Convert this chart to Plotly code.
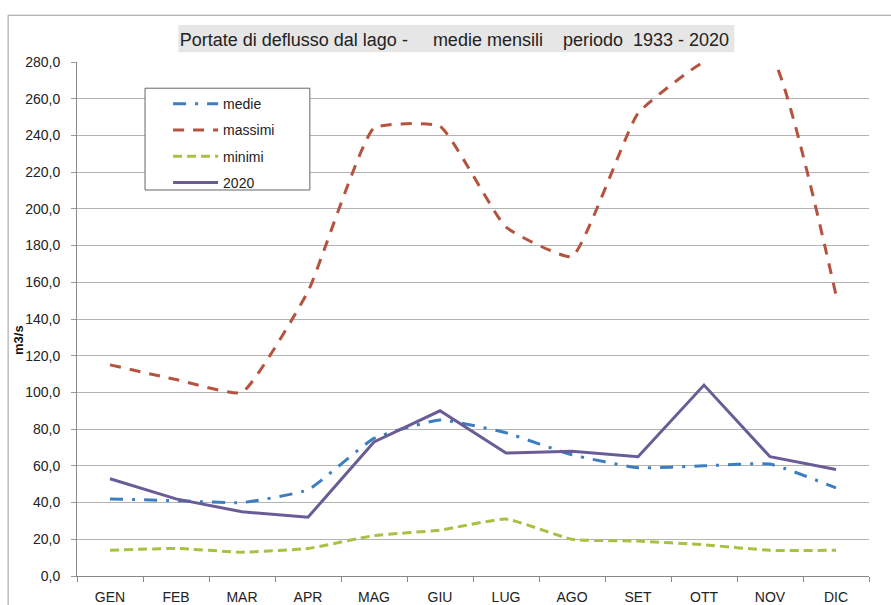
import plotly.graph_objects as go

mesi = ["GEN", "FEB", "MAR", "APR", "MAG", "GIU", "LUG", "AGO", "SET", "OTT", "NOV", "DIC"]
medie = [42, 41, 40, 47, 75, 85, 78, 66, 59, 60, 61, 48]
massimi = [115, 107, 100, 155, 244, 245, 190, 174, 252, 280, 284, 153]
minimi = [14, 15, 13, 15, 22, 25, 31, 20, 19, 17, 14, 14]
anno_2020 = [53, 42, 35, 32, 73, 90, 67, 68, 65, 104, 65, 58]
y_ticks = [0, 20, 40, 60, 80, 100, 120, 140, 160, 180, 200, 220, 240, 260, 280]
y_ticktext = [f"{v:.1f}".replace(".", ",") for v in y_ticks]

FONT = "Liberation Sans"

fig = go.Figure()
fig.add_trace(go.Scatter(x=mesi, y=medie, name="medie", mode="lines", legendgroup="a",
                         line=dict(color="#3C7EC0", width=3, dash="13px,9px,3px,9px", shape="spline", smoothing=0.4)))
fig.add_trace(go.Scatter(x=mesi, y=massimi, name="massimi", mode="lines", legendgroup="b",
                         line=dict(color="#B5533E", width=3, dash="11px,9px", shape="spline", smoothing=0.4)))
fig.add_trace(go.Scatter(x=mesi, y=minimi, name="minimi", mode="lines", legendgroup="c",
                         line=dict(color="#A6C144", width=3, dash="9px,5px", shape="spline", smoothing=0.4)))
fig.add_trace(go.Scatter(x=mesi, y=anno_2020, name="2020", mode="lines", legendgroup="d",
                         line=dict(color="#6A5C96", width=3)))

fig.update_layout(
    width=891, height=605,
    margin=dict(l=77, r=22, t=62, b=29),
    paper_bgcolor="white", plot_bgcolor="white",
    font=dict(family=FONT, size=14, color="#222222"),
    title=dict(text="Portate di deflusso dal lago -     medie mensili    periodo  1933 - 2020",
               x=0.51, xanchor="center", y=0.934, yanchor="middle",
               font=dict(family=FONT, size=18, color="#222222")),
    legend=dict(x=0.115, y=0.949, xanchor="left", yanchor="top",
                bgcolor="rgba(0,0,0,0)", borderwidth=0,
                font=dict(size=14), itemwidth=45, tracegroupgap=5),
    xaxis=dict(range=[-0.5, 11.5], showgrid=False, showline=True, linecolor="#888888", linewidth=1,
               ticks="outside", ticklen=5, tickcolor="#888888", tickson="boundaries",
               tickfont=dict(size=14), automargin=False, ticklabelstandoff=8),
    yaxis=dict(range=[0, 280], tickvals=y_ticks, ticktext=y_ticktext,
               showgrid=True, gridcolor="#b3b3b3", gridwidth=1,
               showline=True, linecolor="#888888", linewidth=1,
               ticks="outside", ticklen=5, tickcolor="#999999",
               zeroline=False, tickfont=dict(size=14), automargin=False, ticklabelstandoff=8),
    annotations=[dict(text="<b>m3/s</b>", xref="paper", yref="paper",
                      x=-0.074, y=0.46, xanchor="center", yanchor="middle",
                      textangle=-90, showarrow=False, font=dict(size=13, color="#111111"))],
    shapes=[
        dict(type="rect", xref="paper", yref="paper", x0=-0.087, x1=1.03, y0=-0.06, y1=1.091,
             line=dict(color="#999999", width=1), layer="below"),
        dict(type="rect", xref="paper", yref="paper", x0=0.128, x1=0.83, y0=1.019, y1=1.072,
             line=dict(width=0), fillcolor="#e6e6e6", layer="below"),
        dict(type="rect", xref="paper", yref="paper", x0=0.0859, x1=0.294, y0=0.751, y1=0.949,
             line=dict(color="#666666", width=1), fillcolor="white", layer="above"),
    ],
)

fig.write_html("out.html", config={"displayModeBar": False},
               post_script="document.body.style.margin='0';")
